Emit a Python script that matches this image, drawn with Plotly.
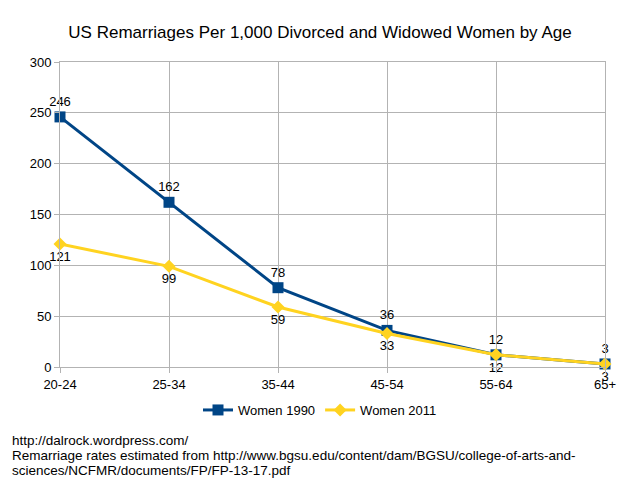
import plotly.graph_objects as go

categories = ["20-24", "25-34", "35-44", "45-54", "55-64", "65+"]
women_1990 = [246, 162, 78, 36, 12, 3]
women_2011 = [121, 99, 59, 33, 12, 3]
y_ticks = [0, 50, 100, 150, 200, 250, 300]
footnote_lines = [
    "http://dalrock.wordpress.com/",
    "Remarriage rates estimated from http://www.bgsu.edu/content/dam/BGSU/college-of-arts-and-",
    "sciences/NCFMR/documents/FP/FP-13-17.pdf",
]

FONT = "Liberation Sans, Arial, sans-serif"
L, R, T, B = 60, 35, 62, 117
W, H = 640, 484
pw = W - L - R
ph = H - T - B

fig = go.Figure()
fig.add_trace(go.Scatter(
    x=categories, y=women_1990, name="Women 1990",
    mode="lines+markers+text", text=[str(v) for v in women_1990],
    textposition="top center", textfont=dict(size=13, color="#000000", family=FONT),
    line=dict(color="#004586", width=3),
    marker=dict(symbol="square", size=11, color="#004586"),
    cliponaxis=False,
))
fig.add_trace(go.Scatter(
    x=categories, y=women_2011, name="Women 2011",
    mode="lines+markers+text", text=[str(v) for v in women_2011],
    textposition="bottom center", textfont=dict(size=13, color="#000000", family=FONT),
    line=dict(color="#ffd320", width=3),
    marker=dict(symbol="diamond", size=10, color="#ffd320"),
    cliponaxis=False,
))

fig.update_layout(
    width=W, height=H,
    margin=dict(l=L, r=R, t=T, b=B),
    paper_bgcolor="white", plot_bgcolor="white",
    font=dict(family=FONT, size=13, color="#000000"),
    title=dict(text="US Remarriages Per 1,000 Divorced and Widowed Women by Age",
               x=0.5, xanchor="center", y=1 - 32 / H, yanchor="middle",
               font=dict(size=17, family=FONT, color="#000000")),
    legend=dict(orientation="h", x=(320 - L) / pw, xanchor="center",
                y=(T + ph - 410) / ph, yanchor="middle",
                font=dict(size=13, family=FONT), itemwidth=30),
    showlegend=True,
)
fig.update_xaxes(
    type="category", range=[0, 5],
    showgrid=True, gridcolor="#b3b3b3", gridwidth=1,
    showline=True, linecolor="#b3b3b3", mirror=True,
    ticks="outside", ticklen=5, tickcolor="#b3b3b3",
    tickfont=dict(size=13, family=FONT), zeroline=False,
)
fig.update_yaxes(
    range=[0, 300], tickvals=y_ticks,
    showgrid=True, gridcolor="#b3b3b3", gridwidth=1,
    showline=True, linecolor="#b3b3b3", mirror=True,
    ticks="outside", ticklen=5, tickcolor="#b3b3b3",
    tickfont=dict(size=13, family=FONT), zeroline=False,
)
for i, line in enumerate(footnote_lines):
    fig.add_annotation(
        text=line,
        xref="paper", yref="paper", x=(10 - L) / pw, y=(T + ph - (440 + 15 * i)) / ph,
        xanchor="left", yanchor="middle", align="left", showarrow=False,
        font=dict(size=13.5, family=FONT, color="#000000"),
    )

fig.write_html("out.html")
